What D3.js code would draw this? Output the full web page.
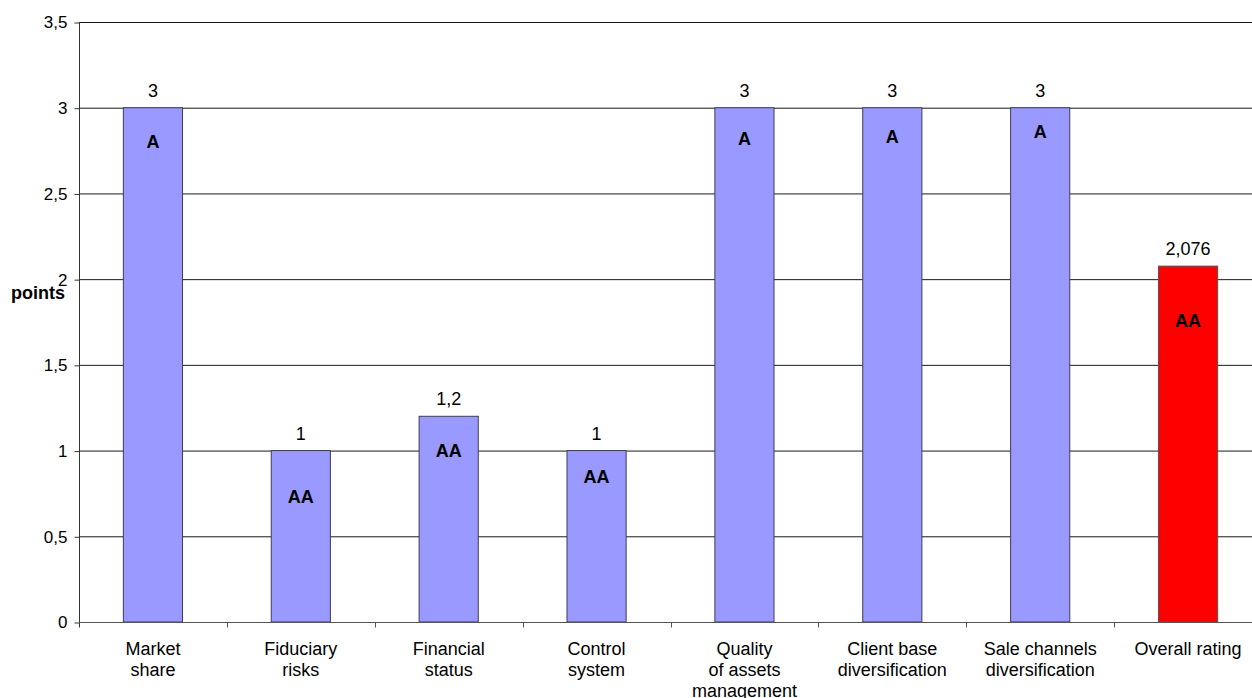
<!DOCTYPE html>
<html>
<head>
<meta charset="utf-8">
<script src="https://cdn.jsdelivr.net/npm/d3@7"></script>
<style>
  body { margin: 0; background: #fff; }
  text { font-family: Arial, "Liberation Sans", sans-serif; fill: #000; }
</style>
</head>
<body>
<div id="chart"></div>
<script>
// chart values
var categories = [
  ["Market", "share"],
  ["Fiduciary", "risks"],
  ["Financial", "status"],
  ["Control", "system"],
  ["Quality", "of assets", "management"],
  ["Client base", "diversification"],
  ["Sale channels", "diversification"],
  ["Overall rating"]
];
var points = [3, 1, 1.2, 1, 3, 3, 3, 2.076];
var valueLabels = ["3", "1", "1,2", "1", "3", "3", "3", "2,076"];
// rating letters sit inside the bars at these heights (in points)
var ratings = ["A", "AA", "AA", "AA", "A", "A", "A", "AA"];
var ratingPos = [2.8, 0.73, 1.0, 0.85, 2.82, 2.83, 2.86, 1.76];
var yTicks = [0, 0.5, 1, 1.5, 2, 2.5, 3, 3.5];

var svgWidth = 1252;
var svgHeight = 698;

var margin = { top: 22, right: -10, bottom: 76, left: 79 };
var width = svgWidth - margin.left - margin.right;
var height = svgHeight - margin.top - margin.bottom;

var svg = d3.select("#chart")
  .append("svg")
  .attr("width", svgWidth)
  .attr("height", svgHeight);

var chartGroup = svg.append("g")
  .attr("transform", `translate(${margin.left}, ${margin.top})`);

// scales
var xScale = d3.scaleBand()
  .domain(d3.range(categories.length))
  .range([0, width])
  .padding(0);

var yScale = d3.scaleLinear()
  .domain([0, 3.5])
  .range([height, 0]);

var fmt = d => d3.format("")(d).replace(".", ",");

// gridlines
chartGroup.selectAll(".grid")
  .data(yTicks.filter(d => d > 0))
  .enter()
  .append("line")
  .attr("x1", 0)
  .attr("x2", width)
  .attr("y1", d => yScale(d) + 0.5)
  .attr("y2", d => yScale(d) + 0.5)
  .attr("stroke", "#1a1a1a")
  .attr("stroke-width", 1);

// bars
var barW = xScale.bandwidth() * 0.4;
chartGroup.selectAll(".bar")
  .data(points)
  .enter()
  .append("rect")
  .attr("x", (d, i) => xScale(i) + (xScale.bandwidth() - barW) / 2)
  .attr("y", d => yScale(d))
  .attr("width", barW)
  .attr("height", d => height - yScale(d))
  .attr("fill", (d, i) => i === points.length - 1 ? "#ff0000" : "#9999ff")
  .attr("stroke", (d, i) => i === points.length - 1 ? "#555" : "#3c3c5a")
  .attr("stroke-width", 1);

// y axis
var leftAxis = d3.axisLeft(yScale)
  .tickValues(yTicks)
  .tickFormat(fmt)
  .tickSize(5)
  .tickPadding(7);

var yAxisG = chartGroup.append("g")
  .attr("transform", "translate(0.5, 0.5)")
  .call(leftAxis);
yAxisG.select(".domain").attr("stroke", "#333").attr("d", `M0,0V${height + 5}`);
yAxisG.selectAll(".tick line").attr("stroke", "#333");
yAxisG.selectAll(".tick text")
  .attr("font-size", "17px")
  .attr("font-family", "Arial, 'Liberation Sans', sans-serif")
  .attr("fill", "#000");

// x axis: ticks on the category boundaries
var xAxisG = chartGroup.append("g")
  .attr("transform", `translate(0, ${height + 0.5})`);
xAxisG.append("line")
  .attr("x1", 0).attr("x2", width)
  .attr("stroke", "#555");
xAxisG.selectAll(".xtick")
  .data(d3.range(1, categories.length))
  .enter()
  .append("line")
  .attr("x1", d => Math.round(xScale(d)) + 0.5)
  .attr("x2", d => Math.round(xScale(d)) + 0.5)
  .attr("y1", 0).attr("y2", 5)
  .attr("stroke", "#555");

// category labels
var catText = chartGroup.selectAll(".cat")
  .data(categories)
  .enter()
  .append("text")
  .attr("text-anchor", "middle")
  .attr("font-size", "18px")
  .attr("transform", (d, i) => `translate(${xScale(i) + xScale.bandwidth() / 2}, ${height + 33})`);
catText.selectAll("tspan")
  .data(d => d)
  .enter()
  .append("tspan")
  .attr("x", 0)
  .attr("y", (d, j) => j * 21)
  .text(d => d);

// value labels above the bars
chartGroup.selectAll(".val")
  .data(points)
  .enter()
  .append("text")
  .attr("x", (d, i) => xScale(i) + xScale.bandwidth() / 2)
  .attr("y", d => yScale(d) - 11)
  .attr("text-anchor", "middle")
  .attr("font-size", "18px")
  .text((d, i) => valueLabels[i]);

// rating letters inside the bars
chartGroup.selectAll(".rating")
  .data(ratingPos)
  .enter()
  .append("text")
  .attr("x", (d, i) => xScale(i) + xScale.bandwidth() / 2)
  .attr("y", d => yScale(d))
  .attr("dy", "0.35em")
  .attr("text-anchor", "middle")
  .attr("font-size", "18px")
  .attr("font-weight", "bold")
  .text((d, i) => ratings[i]);

// y axis title
svg.append("text")
  .attr("x", 38)
  .attr("y", 299)
  .attr("text-anchor", "middle")
  .attr("font-size", "18px")
  .attr("font-weight", "bold")
  .text("points");
</script>
</body>
</html>
